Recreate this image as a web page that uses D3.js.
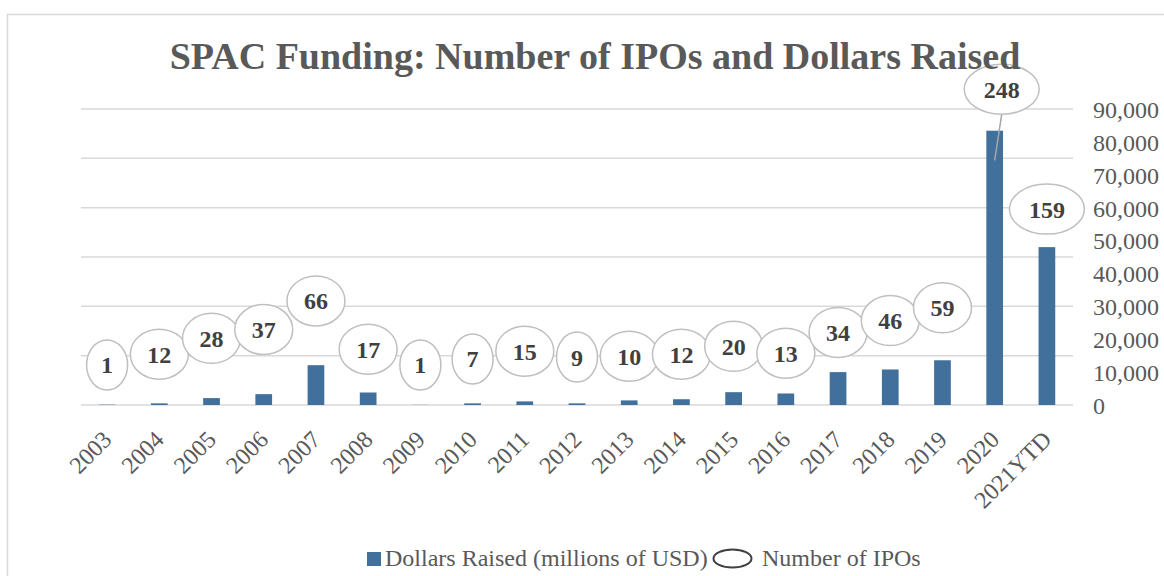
<!DOCTYPE html>
<html>
<head>
<meta charset="utf-8">
<script src="https://cdn.jsdelivr.net/npm/d3@7"></script>
<style>
  body { margin: 0; background: #fff; }
  svg { display: block; }
</style>
</head>
<body>
<div id="chart"></div>
<script>
// data
const years = ["2003", "2004", "2005", "2006", "2007", "2008", "2009", "2010", "2011", "2012",
  "2013", "2014", "2015", "2016", "2017", "2018", "2019", "2020", "2021YTD"];
const dollarsRaised = [100, 500, 2100, 3300, 12100, 3800, 40, 500, 1100, 500,
  1400, 1750, 3900, 3500, 10000, 10800, 13600, 83400, 48000];
const numberOfIpos = [1, 12, 28, 37, 66, 17, 1, 7, 15, 9,
  10, 12, 20, 13, 34, 46, 59, 248, 159];
const dollarTicks = [0, 10000, 20000, 30000, 40000, 50000, 60000, 70000, 80000, 90000];
const iposGrid = [0, 50, 100, 150, 200, 250, 300];

const pars = {
  width: 1164,
  height: 576,
  plotLeft: 81,
  plotRight: 1073,
  plotTop: 109,
  plotBottom: 405,
  barColor: "#41709c",
  gridColor: "#d9d9d9",
  textColor: "#595959",
  labelColor: "#404040",
  bubbleStroke: "#bfbfbf",
  font: "'Liberation Serif', 'Times New Roman', serif",
  labelOffset: 39
};

const svg = d3.select("#chart").append("svg")
  .attr("width", pars.width)
  .attr("height", pars.height);

// chart frame
svg.append("rect")
  .attr("x", 7.5).attr("y", 14.5)
  .attr("width", 1200).attr("height", 600)
  .attr("fill", "white")
  .attr("stroke", pars.gridColor)
  .attr("stroke-width", 1.5);

const x = d3.scaleBand()
  .domain(years)
  .range([pars.plotLeft, pars.plotRight])
  .paddingInner(0.68)
  .paddingOuter(0.34);

const yDollars = d3.scaleLinear().domain([0, 90000]).range([pars.plotBottom, pars.plotTop]);
const yIpos = d3.scaleLinear().domain([0, 300]).range([pars.plotBottom, pars.plotTop]);

// gridlines come from the hidden IPO axis
svg.append("g").selectAll("line")
  .data(iposGrid)
  .enter().append("line")
  .attr("x1", pars.plotLeft)
  .attr("x2", pars.plotRight)
  .attr("y1", d => yIpos(d))
  .attr("y2", d => yIpos(d))
  .attr("stroke", pars.gridColor)
  .attr("stroke-width", 1.5);

// bars
svg.append("g").selectAll("rect")
  .data(years)
  .enter().append("rect")
  .attr("x", d => x(d))
  .attr("width", x.bandwidth())
  .attr("y", (d, i) => yDollars(dollarsRaised[i]))
  .attr("height", (d, i) => pars.plotBottom - yDollars(dollarsRaised[i]))
  .attr("fill", pars.barColor);

// right axis
const rightAxis = svg.append("g")
  .attr("transform", `translate(${pars.plotRight + 20},0)`)
  .call(d3.axisRight(yDollars).tickValues(dollarTicks).tickSize(0).tickFormat(d3.format(",")));
rightAxis.select(".domain").remove();
rightAxis.selectAll("text")
  .attr("x", 0)
  .attr("dy", "0.35em")
  .style("font-family", pars.font)
  .style("font-size", "24px")
  .attr("fill", pars.textColor);

// category axis
const bottomAxis = svg.append("g")
  .attr("transform", `translate(0,${pars.plotBottom})`)
  .call(d3.axisBottom(x).tickSize(0));
bottomAxis.select(".domain").remove();
bottomAxis.selectAll("text")
  .attr("y", 0)
  .attr("dy", 0)
  .attr("text-anchor", "end")
  .attr("transform", "translate(6,36) rotate(-45)")
  .style("font-family", pars.font)
  .style("font-size", "24px")
  .attr("fill", pars.textColor);

// IPO count bubbles (the line series itself is hidden)
const moved = {"2020": {dx: 7, dy: -71}};
svg.append("g").selectAll("g")
  .data(years)
  .enter().append("g")
  .each(function (d, i) {
    const g = d3.select(this);
    const px = x(d) + x.bandwidth() / 2;
    const py = yIpos(numberOfIpos[i]);
    const off = moved[d] || {dx: 0, dy: -pars.labelOffset};
    const cx = px + off.dx;
    const cy = py + off.dy;
    const ry = 25;
    if (moved[d]) {
      g.append("line")
        .attr("x1", cx).attr("y1", cy + ry)
        .attr("x2", px).attr("y2", py)
        .attr("stroke", "#a6a6a6")
        .attr("stroke-width", 1.5);
    }
    const ell = g.append("ellipse")
      .attr("cx", cx).attr("cy", cy)
      .attr("fill", "white")
      .attr("stroke", pars.bubbleStroke)
      .attr("stroke-width", 1.5);
    const t = g.append("text")
      .attr("x", cx).attr("y", cy)
      .attr("dy", "0.35em")
      .attr("text-anchor", "middle")
      .style("font-family", pars.font)
      .style("font-size", "24px")
      .style("font-weight", "bold")
      .attr("fill", pars.labelColor)
      .text(numberOfIpos[i]);
    const tw = t.node().getComputedTextLength();
    ell.attr("rx", (tw + 17) / Math.SQRT2).attr("ry", ry);
  });

// title
svg.append("text")
  .attr("x", 595)
  .attr("y", 69)
  .attr("text-anchor", "middle")
  .style("font-family", pars.font)
  .style("font-size", "38px")
  .style("font-weight", "bold")
  .attr("fill", pars.textColor)
  .text("SPAC Funding: Number of IPOs and Dollars Raised");

// legend
const legend = svg.append("g");
legend.append("rect")
  .attr("x", 367).attr("y", 552)
  .attr("width", 14).attr("height", 14)
  .attr("fill", pars.barColor);
legend.append("text")
  .attr("x", 385).attr("y", 566)
  .style("font-family", pars.font)
  .style("font-size", "24px")
  .attr("fill", pars.textColor)
  .text("Dollars Raised (millions of USD)");
legend.append("ellipse")
  .attr("cx", 732.5).attr("cy", 558.5)
  .attr("rx", 19).attr("ry", 9)
  .attr("fill", "white")
  .attr("stroke", pars.labelColor)
  .attr("stroke-width", 2);
legend.append("text")
  .attr("x", 762).attr("y", 566)
  .style("font-family", pars.font)
  .style("font-size", "24px")
  .attr("fill", pars.textColor)
  .text("Number of IPOs");
</script>
</body>
</html>
